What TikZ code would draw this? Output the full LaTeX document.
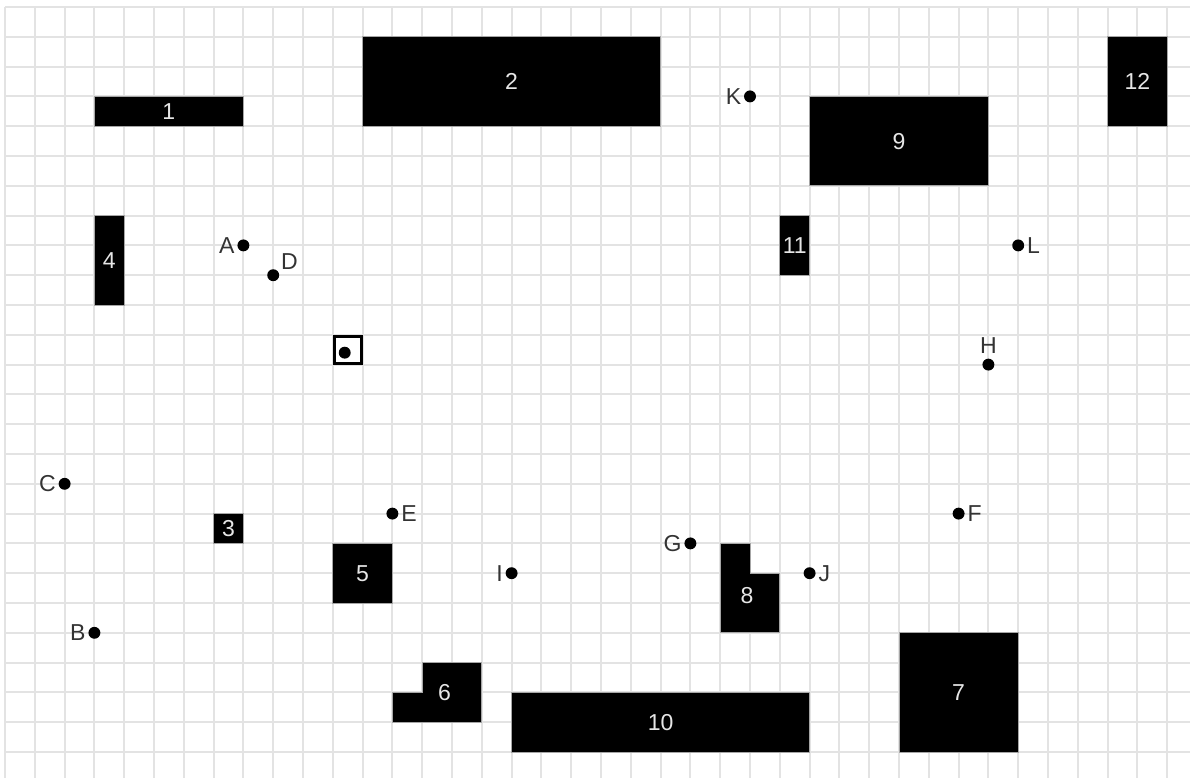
\documentclass[tikz,border=0pt]{standalone}
\usepackage{fontspec}
\setmainfont{Liberation Sans}
\usetikzlibrary{positioning}
\definecolor{GridGray}{HTML}{E3E3E3}
\definecolor{Ink}{HTML}{333333}
\definecolor{BoxText}{HTML}{E6E6E6}

\begin{document}
\begin{tikzpicture}[x=0.5cm,y=-0.5cm]
  \tikzset{
    gridline/.style={draw=GridGray,line width=0.9pt},
    obst/.style={fill=black,draw=gray!70,line width=0.3pt},
    obstlabel/.style={font=\fontsize{11}{13}\selectfont,text=BoxText},
    wp/.style={circle,fill=black,inner sep=0pt,minimum size=0.2cm},
    wplabel/.style={font=\fontsize{11}{13}\selectfont,text=Ink,inner sep=1pt},
    robotbox/.style={draw=black,line width=1.5pt,inner sep=0pt,minimum size=0.453cm}
  }
  \useasboundingbox (-0.168,-0.235) rectangle (39.765,25.872);
  % grid
  \begin{scope}
    \clip (-0.168,-0.235) rectangle (39.765,25.872);
    \foreach \i in {0,...,39} \draw[gridline] (\i,0) -- (\i,26);
    \foreach \j in {0,...,25} \draw[gridline] (0,\j) -- (40,\j);
  \end{scope}

  % obstacles
  \draw[obst] (3,3) rectangle (8,4);
  \node[obstlabel] (o1) at (5.5,3.5) {1};
  \draw[obst] (12,1) rectangle (22,4);
  \node[obstlabel] (o2) at (17,2.5) {2};
  \draw[obst] (7,17) rectangle (8,18);
  \node[obstlabel] (o3) at (7.5,17.5) {3};
  \draw[obst] (3,7) rectangle (4,10);
  \node[obstlabel] (o4) at (3.5,8.5) {4};
  \draw[obst] (11,18) rectangle (13,20);
  \node[obstlabel] (o5) at (12,19) {5};
  \draw[obst] (13,23) -- (14,23) -- (14,22) -- (16,22) -- (16,24) -- (13,24) -- cycle;
  \node[obstlabel] (o6) at (14.75,23) {6};
  \draw[obst] (30,21) rectangle (34,25);
  \node[obstlabel] (o7) at (32,23) {7};
  \draw[obst] (24,18) -- (25,18) -- (25,19) -- (26,19) -- (26,21) -- (24,21) -- cycle;
  \node[obstlabel] (o8) at (24.9,19.75) {8};
  \draw[obst] (27,3) rectangle (33,6);
  \node[obstlabel] (o9) at (30,4.5) {9};
  \draw[obst] (17,23) rectangle (27,25);
  \node[obstlabel] (o10) at (22,24) {10};
  \draw[obst] (26,7) rectangle (27,9);
  \node[obstlabel] (o11) at (26.5,8) {11};
  \draw[obst] (37,1) rectangle (39,4);
  \node[obstlabel] (o12) at (38,2.5) {12};

  % waypoints
  \node[wp,label={[wplabel]left:A}] (A) at (8,8) {};
  \node[wp,label={[wplabel]left:B}] (B) at (3,21) {};
  \node[wp,label={[wplabel]left:C}] (C) at (2,16) {};
  \node[wp,label={[wplabel]30:D}] (D) at (9,9) {};
  \node[wp,label={[wplabel]right:E}] (E) at (13,17) {};
  \node[wp,label={[wplabel]right:F}] (F) at (32,17) {};
  \node[wp,label={[wplabel]left:G}] (G) at (23,18) {};
  \node[wp,label={[wplabel,label distance=1pt]above:H}] (H) at (33,12) {};
  \node[wp,label={[wplabel]left:I}] (I) at (17,19) {};
  \node[wp,label={[wplabel]right:J}] (J) at (27,19) {};
  \node[wp,label={[wplabel]left:K}] (K) at (25,3) {};
  \node[wp,label={[wplabel]right:L}] (L) at (34,8) {};

  % robot
  \node[robotbox] (robot) at (11.5,11.5) {};
  \node[wp] (robotdot) at (11.4,11.6) {};
\end{tikzpicture}
\end{document}
